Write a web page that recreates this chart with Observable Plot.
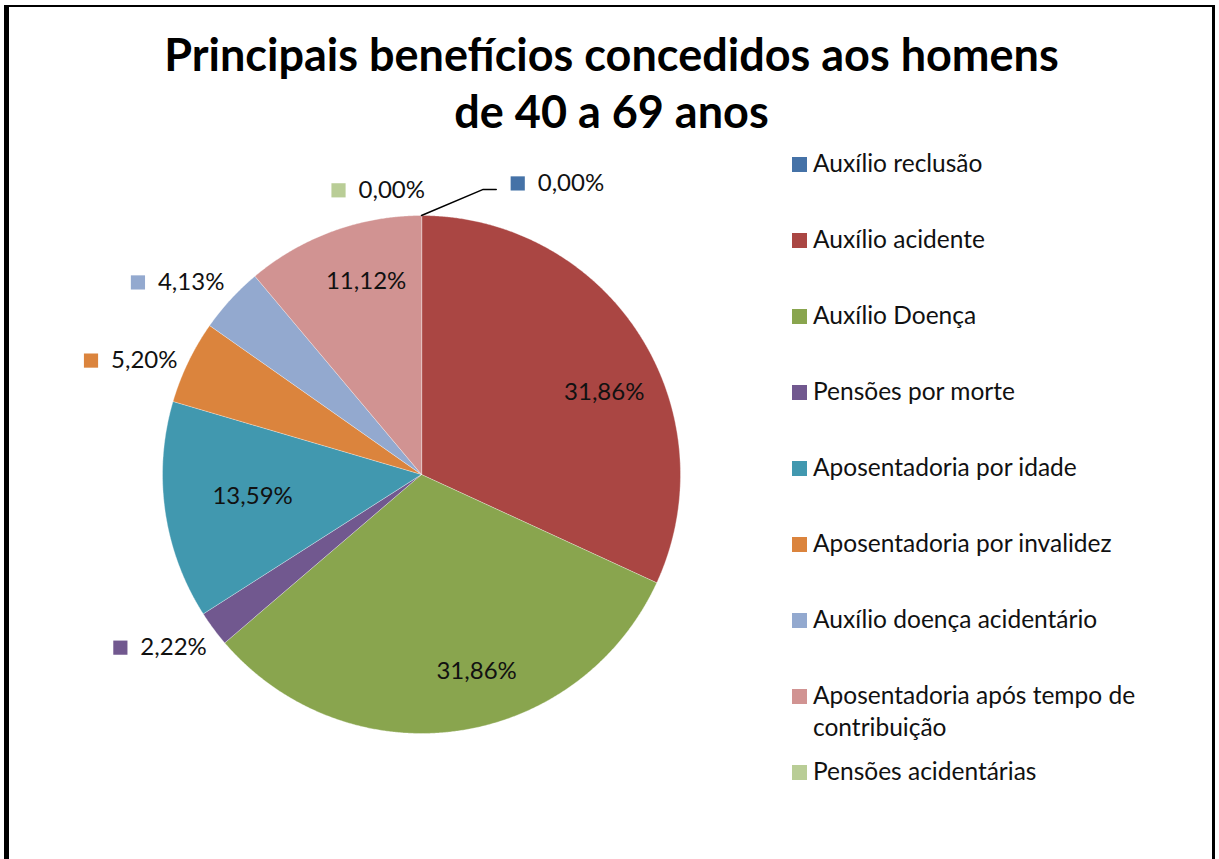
<!DOCTYPE html>
<html>
<head>
<meta charset="utf-8">
<script src="https://cdn.jsdelivr.net/npm/d3@7"></script>
<script src="https://cdn.jsdelivr.net/npm/@observablehq/plot@0.6"></script>
<style>
  body { margin: 0; background: #fff; font-family: Lato, "Open Sans", sans-serif; }
  #page { position: relative; width: 1219px; height: 859px; overflow: hidden; background: #fff; }
  #frame { position: absolute; left: 4px; top: 5px; width: 1203px; height: 900px;
           border-left: 5px solid #000; border-top: 2px solid #000; border-right: 3px solid #000; }
  #title { position: absolute; left: 0; width: 1223px; top: 26px; text-align: center;
           font-weight: bold; font-size: 45px; line-height: 57px; color: #000; white-space: nowrap; }
  #chart { position: absolute; left: 0; top: 150px; }
  .lg-sq { position: absolute; left: 792px; width: 15px; height: 15px; }
  .lg-tx { position: absolute; left: 813px; width: 390px; font-size: 24.5px; line-height: 32px; color: #111; }
</style>
</head>
<body>
<div id="page">
  <div id="frame"></div>
  <div id="title"></div>
  <div id="chart"></div>
  <div id="legend"></div>
</div>
<script>
// ---- data ----
const titleLines = ["Principais benefícios concedidos aos homens", "de 40 a 69 anos"];
const categories = [
  "Auxílio reclusão",
  "Auxílio acidente",
  "Auxílio Doença",
  "Pensões por morte",
  "Aposentadoria por idade",
  "Aposentadoria por invalidez",
  "Auxílio doença acidentário",
  "Aposentadoria após tempo de contribuição",
  "Pensões acidentárias"
];
const values = [0.00, 31.86, 31.86, 2.22, 13.59, 5.20, 4.13, 11.12, 0.00];
const colors = ["#4572A7", "#AA4643", "#89A54E", "#71588F", "#4198AF", "#DB843D", "#93A9CF", "#D19392", "#B9CD96"];

// ---- title ----
document.getElementById("title").innerHTML = titleLines.join("<br>");

// ---- legend ----
const legend = document.getElementById("legend");
categories.forEach((c, i) => {
  const baseline = 172 + 76 * i;
  const sq = document.createElement("div");
  sq.className = "lg-sq";
  sq.style.top = (baseline - 15) + "px";
  sq.style.background = colors[i];
  const tx = document.createElement("div");
  tx.className = "lg-tx";
  tx.style.top = (baseline - 25.5) + "px";
  tx.textContent = c;
  legend.appendChild(sq);
  legend.appendChild(tx);
});

// ---- pie geometry (unit circle) ----
const R = 259;
const arcs = d3.pie().sort(null).value(d => d)(values);
const fmt = v => v.toFixed(2).replace(".", ",") + "%";
const slices = [];
arcs.forEach((a, i) => {
  if (a.value <= 0) return;
  const pts = [{x: 0, y: 0}];
  const n = Math.max(2, Math.ceil((a.endAngle - a.startAngle) / 0.005));
  for (let k = 0; k <= n; k++) {
    const t = a.startAngle + (a.endAngle - a.startAngle) * k / n;
    pts.push({x: Math.sin(t), y: Math.cos(t)});
  }
  slices.push({i, pts});
});

// label placement: inside for large slices, outside for small ones;
// zero slices placed apart, plus small layout nudges (px) like the spreadsheet's best-fit
const zeroPlacement = {0: {angle: 25, r: 1.24}, 8: {angle: -8.7, r: 1.11}};
const nudge = {1: [17, 24], 2: [28, 2], 4: [26, -6], 7: [12, -8], 3: [-12, -12], 5: [-11, 21], 6: [-15, 18]};
const inside = [], outside = [];
arcs.forEach((a, i) => {
  const mid = (a.startAngle + a.endAngle) / 2;
  const [ndx, ndy] = nudge[i] || [0, 0];
  if (a.value >= 10) {
    const r = 0.76;
    inside.push({x: r * Math.sin(mid) + ndx / R, y: r * Math.cos(mid) - ndy / R, text: fmt(a.value)});
  } else {
    let ang = mid, r = 1.2;
    if (zeroPlacement[i]) { ang = zeroPlacement[i].angle * Math.PI / 180; r = zeroPlacement[i].r; }
    outside.push({i, x: r * Math.sin(ang) + ndx / R, y: r * Math.cos(ang) - ndy / R, text: fmt(a.value), color: colors[i], mid: a.startAngle});
  }
});

// leader line for the first zero slice
const lead = outside.find(d => d.i === 0);
const leader = [
  {x: Math.sin(lead.mid), y: Math.cos(lead.mid)},
  {x: lead.x - 74 / R, y: lead.y - 6 / R},
  {x: lead.x - 61 / R, y: lead.y - 6 / R}
];

const cx = 421, cy = 324;
const marks = [];
slices.forEach(s => {
  marks.push(Plot.line(s.pts, {x: "x", y: "y", fill: colors[s.i], stroke: "#ffffff", strokeOpacity: 0.45, strokeWidth: 0.8, curve: "linear-closed"}));
});
marks.push(Plot.line(leader, {x: "x", y: "y", stroke: "#000", strokeWidth: 1.5}));
marks.push(Plot.text(inside, {x: "x", y: "y", text: "text", fontSize: 24, fill: "#111"}));
marks.push(Plot.dot(outside, {x: "x", y: "y", fill: "color", symbol: "square", r: 8, dx: -39.5, stroke: null}));
marks.push(Plot.text(outside, {x: "x", y: "y", text: "text", fontSize: 24, fill: "#111", textAnchor: "start", dx: -19.5}));

const plot = Plot.plot({
  width: 780,
  height: 700,
  margin: 0,
  x: {domain: [-1, 1], range: [cx - R, cx + R], axis: null},
  y: {domain: [-1, 1], range: [cy + R, cy - R], axis: null},
  color: {type: "identity"},
  style: {fontFamily: "Lato, 'Open Sans', sans-serif", background: "transparent", overflow: "visible"},
  marks
});
document.getElementById("chart").appendChild(plot);
</script>
</body>
</html>
